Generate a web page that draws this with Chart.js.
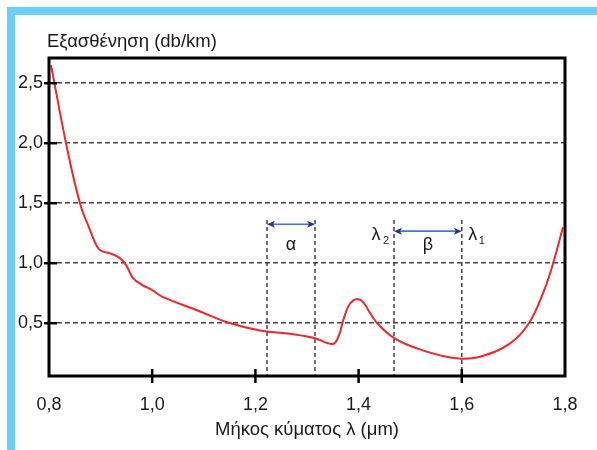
<!DOCTYPE html>
<html>
<head>
<meta charset="utf-8">
<script src="https://cdn.jsdelivr.net/npm/chart.js@4"></script>
<style>
  html, body { margin: 0; padding: 0; background: #fff; }
  body { width: 597px; height: 450px; position: relative; overflow: hidden; }
  .frame {
    position: absolute; left: 7px; top: 7px; width: 620px; height: 436px;
    border-top: 8px solid #6ccff5; border-left: 8px solid #6ccff5; border-bottom: 4px solid #6ccff5;
  }
  #chart { position: absolute; left: 0; top: 0; }
</style>
</head>
<body>
<div class="frame"></div>
<canvas id="chart" width="597" height="450"></canvas>
<script>
// attenuation curve (wavelength in um, attenuation in db/km)
var wavelength = [0.804, 0.833, 0.860, 0.880, 0.893, 0.902, 0.920, 0.938, 0.950, 0.963, 0.980, 1.000, 1.021, 1.087, 1.145, 1.209, 1.27, 1.3155, 1.339, 1.352, 1.362, 1.370, 1.380, 1.390, 1.400, 1.410, 1.420, 1.436, 1.469, 1.513, 1.560, 1.595, 1.635, 1.693, 1.730, 1.760, 1.777, 1.796];
var attenuation = [2.65, 2.00, 1.50, 1.27, 1.14, 1.10, 1.08, 1.04, 0.98, 0.875, 0.82, 0.775, 0.717, 0.608, 0.508, 0.44, 0.41, 0.375, 0.335, 0.33, 0.40, 0.52, 0.64, 0.69, 0.70, 0.67, 0.60, 0.50, 0.375, 0.29, 0.23, 0.205, 0.22, 0.33, 0.50, 0.78, 1.00, 1.30];

var xTicks = [0.8, 1.0, 1.2, 1.4, 1.6, 1.8];
var yTicks = [0.5, 1.0, 1.5, 2.0, 2.5];

// window markers: alpha pair, lambda2, lambda1
var markerX = [1.2225, 1.3155, 1.4686, 1.60];
var markerTop = 1.36;
var arrowLevel = [1.325, 1.267];

function fmt(v) { return v.toFixed(1).replace('.', ','); }

var curve = wavelength.map(function(x, i) { return { x: x, y: attenuation[i] }; });

var datasets = [{
  data: curve,
  borderColor: '#f0262a',
  borderWidth: 2,
  pointRadius: 0,
  tension: 0.4,
  fill: false
}];
markerX.forEach(function(x) {
  datasets.push({
    data: [{ x: x, y: markerTop }, { x: x, y: 0.06 }],
    borderColor: '#333',
    borderWidth: 1.4,
    borderDash: [4, 3],
    pointRadius: 0,
    fill: false
  });
});

function arrow(ctx, x1, x2, y) {
  ctx.strokeStyle = '#3f73d8';
  ctx.lineWidth = 1.6;
  ctx.beginPath();
  ctx.moveTo(x1 + 4, y);
  ctx.lineTo(x2 - 4, y);
  ctx.stroke();
  ctx.fillStyle = '#27308a';
  [[x1, 1], [x2, -1]].forEach(function(p) {
    ctx.beginPath();
    ctx.moveTo(p[0], y);
    ctx.lineTo(p[0] + p[1] * 8, y - 3.5);
    ctx.lineTo(p[0] + p[1] * 6, y);
    ctx.lineTo(p[0] + p[1] * 8, y + 3.5);
    ctx.closePath();
    ctx.fill();
  });
}

var decor = {
  id: 'decor',
  afterDraw: function(chart) {
    var ctx = chart.ctx, a = chart.chartArea;
    var xs = chart.scales.x, ys = chart.scales.y;
    ctx.save();
    ctx.setLineDash([]);
    ctx.strokeStyle = '#000';
    ctx.lineWidth = 3;
    ctx.strokeRect(a.left, a.top, a.right - a.left, a.bottom - a.top);
    ctx.lineWidth = 2.5;
    yTicks.forEach(function(v) {
      var y = ys.getPixelForValue(v);
      ctx.beginPath(); ctx.moveTo(a.left - 5, y); ctx.lineTo(a.left + 8, y); ctx.stroke();
    });
    xTicks.slice(1, -1).forEach(function(v) {
      var x = xs.getPixelForValue(v);
      ctx.beginPath(); ctx.moveTo(x, a.bottom - 7); ctx.lineTo(x, a.bottom + 7); ctx.stroke();
    });

    arrow(ctx, xs.getPixelForValue(markerX[0]), xs.getPixelForValue(markerX[1]), ys.getPixelForValue(arrowLevel[0]));
    arrow(ctx, xs.getPixelForValue(markerX[2]), xs.getPixelForValue(markerX[3]), ys.getPixelForValue(arrowLevel[1]));

    ctx.fillStyle = '#1a1a1a';
    ctx.font = '18px "Liberation Sans", Arial, sans-serif';
    ctx.textAlign = 'center';
    ctx.textBaseline = 'middle';
    var ly = ys.getPixelForValue(1.15);
    ctx.fillText('α', xs.getPixelForValue((markerX[0] + markerX[1]) / 2), ly);
    ctx.fillText('β', xs.getPixelForValue((markerX[2] + markerX[3]) / 2), ly);

    var lamY = ys.getPixelForValue(1.233);
    var x2 = xs.getPixelForValue(markerX[2]), x1 = xs.getPixelForValue(markerX[3]);
    ctx.fillText('λ', x2 - 18, lamY);
    ctx.fillText('λ', x1 + 11, lamY);
    ctx.font = '11px "Liberation Sans", Arial, sans-serif';
    ctx.fillText('2', x2 - 8, lamY + 6);
    ctx.fillText('1', x1 + 20, lamY + 6);

    ctx.font = '18.5px "Liberation Sans", Arial, sans-serif';
    ctx.textAlign = 'left';
    ctx.textBaseline = 'alphabetic';
    ctx.fillText('Εξασθένηση (db/km)', 47, 47);
    ctx.textAlign = 'center';
    ctx.fillText('Μήκος κύματος λ (μm)', (a.left + a.right) / 2, 435);
    ctx.restore();
  }
};

var ctx = document.getElementById('chart').getContext('2d');
var chart = new Chart(ctx, {
  type: 'line',
  data: { datasets: datasets },
  options: {
    responsive: false,
    animation: false,
    layout: { padding: { left: 0, right: 32, top: 58, bottom: 0 } },
    plugins: { legend: { display: false }, tooltip: { enabled: false } },
    scales: {
      x: {
        type: 'linear',
        min: 0.8,
        max: 1.8,
        afterBuildTicks: function(scale) { scale.ticks = xTicks.map(function(v) { return { value: v }; }); },
        afterFit: function(scale) { scale.height = 74; },
        grid: { display: false },
        border: { display: false },
        ticks: {
          padding: 10,
          maxRotation: 0,
          color: '#1a1a1a',
          font: { family: '"Liberation Sans", Arial, sans-serif', size: 18 },
          callback: function(v) { return fmt(v); }
        }
      },
      y: {
        min: 0.06,
        max: 2.71,
        afterBuildTicks: function(scale) { scale.ticks = yTicks.map(function(v) { return { value: v }; }); },
        afterFit: function(scale) { scale.width = 49; },
        grid: { color: '#444', lineWidth: 1.5, drawTicks: false },
        border: { display: false, dash: [5, 3] },
        ticks: {
          padding: 6,
          color: '#1a1a1a',
          font: { family: '"Liberation Sans", Arial, sans-serif', size: 18 },
          callback: function(v) { return fmt(v); }
        }
      }
    }
  },
  plugins: [decor]
});
</script>
</body>
</html>
